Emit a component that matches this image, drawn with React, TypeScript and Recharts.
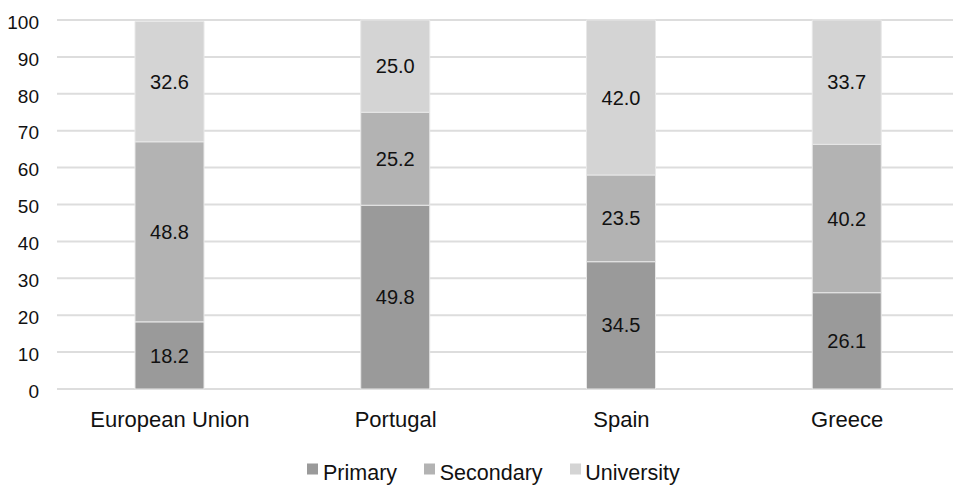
import React from "react";
import { BarChart, Bar, XAxis, YAxis, CartesianGrid, Legend, LabelList } from "recharts";

const countries = ["European Union", "Portugal", "Spain", "Greece"];
const primary = [18.2, 49.8, 34.5, 26.1];
const secondary = [48.8, 25.2, 23.5, 40.2];
const university = [32.6, 25.0, 42.0, 33.7];
const yTicks = [0, 10, 20, 30, 40, 50, 60, 70, 80, 90, 100];

const seriesNames = ["Primary", "Secondary", "University"];
const seriesKeys = ["primary", "secondary", "university"];
const seriesColors = ["#9a9a9a", "#b3b3b3", "#d4d4d4"];

const data = countries.map((c, i) => ({
  country: c,
  primary: primary[i],
  secondary: secondary[i],
  university: university[i],
}));

const FONT = "'Liberation Sans', Arial, sans-serif";

const LegendContent = () => (
  <div
    style={{
      height: 30,
      lineHeight: "30px",
      textAlign: "center",
      fontFamily: FONT,
      fontSize: 21.5,
      color: "#111",
      whiteSpace: "nowrap",
      transform: "translateY(2.5px)",
    }}
  >
    {seriesNames.map((n, i) => (
      <span key={n} style={{ marginRight: i < seriesNames.length - 1 ? 27 : 0 }}>
        <span
          style={{
            display: "inline-block",
            width: 11,
            height: 11,
            background: seriesColors[i],
            marginRight: 4.7,
            marginBottom: 5,
          }}
        />
        {n}
      </span>
    ))}
  </div>
);

export default function App() {
  return (
    <div
      style={{
        position: "absolute",
        left: 0,
        top: 0,
        width: 953,
        height: 485,
        overflow: "hidden",
        background: "#fff",
      }}
    >
      <BarChart
        width={970}
        height={485}
        data={data}
        margin={{ top: 20, right: 10, bottom: 0, left: 0 }}
        style={{ fontFamily: FONT }}
      >
        <CartesianGrid vertical={false} stroke="#dddddd" strokeWidth={2} />
        <XAxis
          dataKey="country"
          tickLine={false}
          axisLine={false}
          tickSize={0}
          tickMargin={22}
          height={66}
          interval={0}
          tick={{ fontSize: 22, fill: "#111", fontFamily: FONT }}
        />
        <YAxis
          domain={[0, 100]}
          ticks={yTicks}
          tickLine={false}
          axisLine={false}
          tickSize={0}
          tickMargin={18}
          width={57}
          interval={0}
          tick={{ fontSize: 19, fill: "#111", fontFamily: FONT, dy: 2 }}
        />
        <Legend
          verticalAlign="bottom"
          content={<LegendContent />}
          wrapperStyle={{ left: 0, width: 987, bottom: 0 }}
        />
        {seriesKeys.map((k, i) => (
          <Bar
            key={k}
            dataKey={k}
            name={seriesNames[i]}
            stackId="a"
            fill={seriesColors[i]}
            stroke="#e8e8e8"
            strokeWidth={1}
            barSize={69}
            isAnimationActive={false}
          >
            <LabelList
              dataKey={k}
              position="center"
              formatter={(v: any) => Number(v).toFixed(1)}
              fill="#111"
              fontSize={20}
              fontFamily={FONT}
            />
          </Bar>
        ))}
      </BarChart>
    </div>
  );
}
